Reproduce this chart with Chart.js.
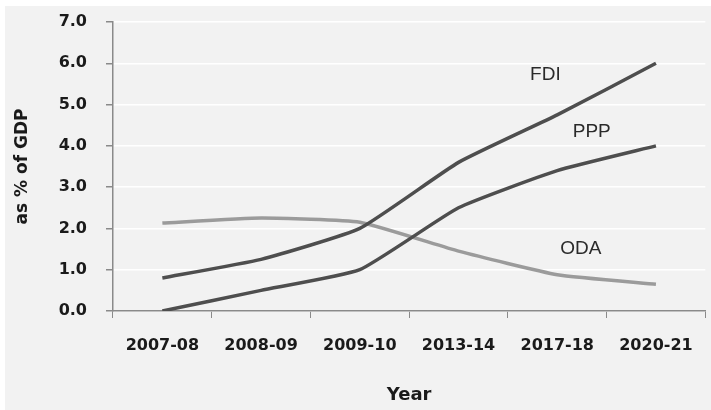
<!DOCTYPE html>
<html>
<head>
<meta charset="utf-8">
<script src="https://cdn.jsdelivr.net/npm/chart.js@4.4.1/dist/chart.umd.min.js"></script>
<style>
  html, body { margin: 0; padding: 0; background: #ffffff; }
  canvas { display: block; }
</style>
</head>
<body>
<canvas id="c" width="711" height="410"></canvas>
<script>
const categories = ['2007-08', '2008-09', '2009-10', '2013-14', '2017-18', '2020-21'];
const fdiValues = [0.8, 1.25, 2.0, 3.6, 4.75, 6.0];
const pppValues = [0.0, 0.5, 1.0, 2.5, 3.4, 4.0];
const odaValues = [2.13, 2.25, 2.15, 1.45, 0.88, 0.65];
const yTickLabels = ['0.0', '1.0', '2.0', '3.0', '4.0', '5.0', '6.0', '7.0'];
const seriesLabels = [
  { text: 'FDI', x: 3.88, y: 5.71 },
  { text: 'PPP', x: 4.35, y: 4.33 },
  { text: 'ODA', x: 4.24, y: 1.5 }
];

const bgPlugin = {
  id: 'bg',
  beforeDraw(chart) {
    const ctx = chart.ctx;
    ctx.save();
    ctx.fillStyle = '#ffffff';
    ctx.fillRect(0, 0, chart.width, chart.height);
    ctx.fillStyle = '#f2f2f2';
    ctx.fillRect(5, 6, chart.width - 5, chart.height - 6);
    ctx.restore();
  }
};

const labelPlugin = {
  id: 'seriesText',
  afterDatasetsDraw(chart) {
    const ctx = chart.ctx;
    const xs = chart.scales.x, ys = chart.scales.y;
    ctx.save();
    ctx.font = '19px "Liberation Sans", Arial, sans-serif';
    ctx.fillStyle = '#2a2a2a';
    ctx.textAlign = 'center';
    ctx.textBaseline = 'middle';
    seriesLabels.forEach(l => {
      ctx.fillText(l.text, xs.getPixelForValue(l.x), ys.getPixelForValue(l.y));
    });
    ctx.restore();
  }
};

const lineStyle = { borderWidth: 3.5, pointRadius: 0, tension: 0.15, fill: false };

new Chart(document.getElementById('c'), {
  type: 'line',
  data: {
    labels: categories,
    datasets: [
      Object.assign({ label: 'FDI', data: fdiValues, borderColor: '#4e4e4e' }, lineStyle),
      Object.assign({ label: 'PPP', data: pppValues, borderColor: '#4e4e4e' }, lineStyle),
      Object.assign({ label: 'ODA', data: odaValues, borderColor: '#9b9b9b' }, lineStyle)
    ]
  },
  options: {
    responsive: false,
    animation: false,
    devicePixelRatio: 1,
    layout: { padding: { top: 22, right: 4, left: 0, bottom: 0 } },
    plugins: { legend: { display: false }, tooltip: { enabled: false } },
    scales: {
      x: {
        type: 'category',
        offset: true,
        grid: { display: true, drawOnChartArea: false, drawTicks: true, tickLength: 7, tickColor: '#8a8a8a', offset: true },
        border: { display: true, color: '#8a8a8a', width: 1.5 },
        ticks: { color: '#1a1a1a', font: { family: '"DejaVu Sans", sans-serif', size: 16, weight: 'bold' }, padding: 18, maxRotation: 0, autoSkip: false },
        title: { display: true, text: 'Year', color: '#1a1a1a', font: { family: '"DejaVu Sans", sans-serif', size: 18, weight: 'bold' }, padding: { top: 4, bottom: 4 } },
        afterFit(s) { s.height = 99; }
      },
      y: {
        min: 0, max: 7,
        grid: { color: '#ffffff', lineWidth: 1.5, tickLength: 7, tickColor: '#8a8a8a', drawTicks: true },
        border: { display: true, color: '#8a8a8a', width: 1.5 },
        ticks: {
          stepSize: 1,
          color: '#1a1a1a',
          padding: 19,
          font: { family: '"DejaVu Sans", sans-serif', size: 16, weight: 'bold' },
          callback: (v, i) => yTickLabels[i]
        },
        title: { display: true, text: 'as % of GDP', color: '#1a1a1a', font: { family: '"DejaVu Sans", sans-serif', size: 17, weight: 'bold' }, padding: { top: 12, bottom: 4 } },
        afterFit(s) { s.width = 113; s.paddingTop = 4; s.paddingBottom = 4; }
      }
    }
  },
  plugins: [bgPlugin, labelPlugin]
});
</script>
</body>
</html>
